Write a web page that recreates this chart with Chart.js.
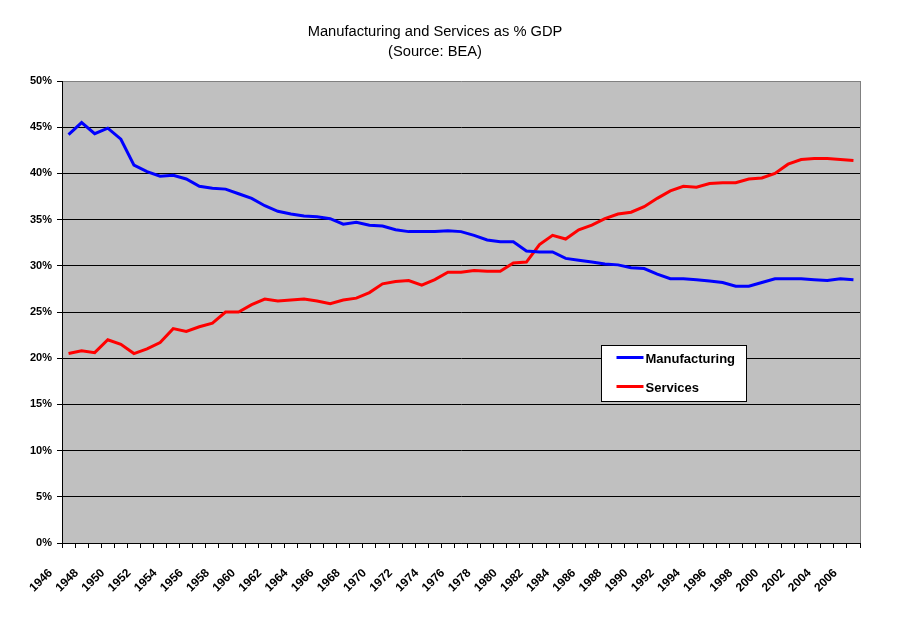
<!DOCTYPE html>
<html>
<head>
<meta charset="utf-8">
<script src="https://cdn.jsdelivr.net/npm/chart.js@4.4.1/dist/chart.umd.min.js"></script>
<style>
  html, body { margin: 0; padding: 0; background: #ffffff; }
  #wrap { width: 911px; height: 621px; position: relative; }
</style>
</head>
<body>
<div id="wrap"><canvas id="c" width="911" height="621"></canvas></div>
<script>
const titleLines = ['Manufacturing and Services as % GDP', '(Source: BEA)'];

const years = [
  '1946','1947','1948','1949','1950','1951','1952','1953','1954','1955',
  '1956','1957','1958','1959','1960','1961','1962','1963','1964','1965',
  '1966','1967','1968','1969','1970','1971','1972','1973','1974','1975',
  '1976','1977','1978','1979','1980','1981','1982','1983','1984','1985',
  '1986','1987','1988','1989','1990','1991','1992','1993','1994','1995',
  '1996','1997','1998','1999','2000','2001','2002','2003','2004','2005','2006'
];

const shownYearLabels = [
  '1946','1948','1950','1952','1954','1956','1958','1960','1962','1964',
  '1966','1968','1970','1972','1974','1976','1978','1980','1982','1984',
  '1986','1988','1990','1992','1994','1996','1998','2000','2002','2004','2006'
];

const manufacturing = [
  44.2, 45.5, 44.3, 44.9, 43.7, 40.9, 40.2, 39.7, 39.8, 39.4,
  38.6, 38.4, 38.3, 37.8, 37.3, 36.5, 35.9, 35.6, 35.4, 35.3,
  35.1, 34.5, 34.7, 34.4, 34.3, 33.9, 33.7, 33.7, 33.7, 33.8,
  33.7, 33.3, 32.8, 32.6, 32.6, 31.6, 31.5, 31.5, 30.8, 30.6,
  30.4, 30.2, 30.1, 29.8, 29.7, 29.1, 28.6, 28.6, 28.5, 28.35,
  28.2, 27.8, 27.8, 28.2, 28.6, 28.6, 28.6, 28.5, 28.4, 28.6, 28.5
];

const services = [
  20.5, 20.8, 20.6, 22.0, 21.5, 20.5, 21.0, 21.7, 23.2, 22.9,
  23.4, 23.8, 25.0, 25.0, 25.8, 26.4, 26.2, 26.3, 26.4, 26.2,
  25.9, 26.3, 26.5, 27.1, 28.05, 28.3, 28.4, 27.9, 28.5, 29.3,
  29.3, 29.5, 29.4, 29.4, 30.3, 30.4, 32.3, 33.3, 32.9, 33.9,
  34.4, 35.1, 35.6, 35.8, 36.4, 37.3, 38.1, 38.6, 38.5, 38.9,
  39.0, 39.0, 39.4, 39.5, 40.0, 41.0, 41.5, 41.6, 41.6, 41.5, 41.4
];

const yTickStep = 5;
const yMin = 0;
const yMax = 50;

const FONT = '"Liberation Sans", Arial, sans-serif';

const plotBg = {
  id: 'plotBg',
  beforeDraw(chart) {
    const { ctx, chartArea: a } = chart;
    ctx.save();
    ctx.fillStyle = '#c0c0c0';
    ctx.fillRect(a.left, a.top, a.right - a.left, a.bottom - a.top);
    ctx.restore();
  },
  beforeDatasetsDraw(chart) {
    const { ctx, chartArea: a } = chart;
    ctx.save();
    ctx.strokeStyle = '#808080';
    ctx.lineWidth = 1;
    ctx.beginPath();
    ctx.moveTo(a.right + 0.5, a.top);
    ctx.lineTo(a.right + 0.5, a.bottom);
    ctx.stroke();
    ctx.restore();
  }
};

const titlePlugin = {
  id: 'customTitle',
  afterDraw(chart) {
    const { ctx } = chart;
    ctx.save();
    ctx.fillStyle = '#000';
    ctx.font = '14.7px ' + FONT;
    ctx.textAlign = 'center';
    ctx.textBaseline = 'middle';
    ctx.fillText(titleLines[0], 435, 32);
    ctx.fillText(titleLines[1], 435, 52);
    ctx.restore();
  }
};

const legendPlugin = {
  id: 'boxLegend',
  afterDraw(chart) {
    const { ctx, chartArea: a } = chart;
    const x = a.left + 539.5, y = a.top + 264.5, w = 145, h = 56;
    ctx.save();
    ctx.fillStyle = '#ffffff';
    ctx.fillRect(x, y, w, h);
    ctx.strokeStyle = '#000';
    ctx.lineWidth = 1;
    ctx.strokeRect(x, y, w, h);
    ctx.font = 'bold 13px ' + FONT;
    ctx.textBaseline = 'middle';
    ctx.textAlign = 'left';
    chart.data.datasets.forEach((ds, i) => {
      const cy = y + 12 + i * 29;
      ctx.strokeStyle = ds.borderColor;
      ctx.lineWidth = 3;
      ctx.beginPath();
      ctx.moveTo(x + 15, cy);
      ctx.lineTo(x + 42, cy);
      ctx.stroke();
      ctx.fillStyle = '#000';
      ctx.fillText(ds.label, x + 44, cy + 2);
    });
    ctx.restore();
  }
};

new Chart(document.getElementById('c'), {
  type: 'line',
  data: {
    labels: years,
    datasets: [
      { label: 'Manufacturing', data: manufacturing, borderColor: '#0000ff', borderWidth: 3, pointRadius: 0, tension: 0, fill: false },
      { label: 'Services', data: services, borderColor: '#ff0000', borderWidth: 3, pointRadius: 0, tension: 0, fill: false }
    ]
  },
  options: {
    responsive: false,
    animation: false,
    devicePixelRatio: 1,
    layout: { padding: { left: 0, top: 81, right: 51, bottom: 0 } },
    plugins: {
      legend: { display: false },
      title: { display: false },
      tooltip: { enabled: false }
    },
    scales: {
      x: {
        type: 'category',
        offset: true,
        grid: {
          display: true,
          offset: true,
          drawOnChartArea: false,
          drawTicks: true,
          tickLength: 5,
          color: '#000'
        },
        border: { display: true, color: '#000', width: 1 },
        ticks: {
          autoSkip: false,
          maxRotation: 45,
          minRotation: 45,
          labelOffset: -18,
          padding: 18,
          color: '#000',
          font: { family: FONT, size: 12, weight: 'bold' },
          callback: function (value, index) {
            const lab = this.getLabelForValue(value);
            return shownYearLabels.includes(lab) ? lab : '';
          }
        },
        afterFit(scale) { scale.height = 78; }
      },
      y: {
        min: yMin,
        max: yMax,
        grid: {
          color: (c) => (c.tick && c.tick.value === yMax ? '#808080' : '#000'),
          tickColor: '#000',
          tickLength: 5,
          drawTicks: true
        },
        border: { display: true, color: '#000', width: 1 },
        ticks: {
          stepSize: yTickStep,
          padding: 5,
          color: '#000',
          font: { family: FONT, size: 11, weight: 'bold' },
          callback: (v) => v + '%'
        },
        afterFit(scale) { scale.width = 62; }
      }
    }
  },
  plugins: [plotBg, titlePlugin, legendPlugin]
});
</script>
</body>
</html>
